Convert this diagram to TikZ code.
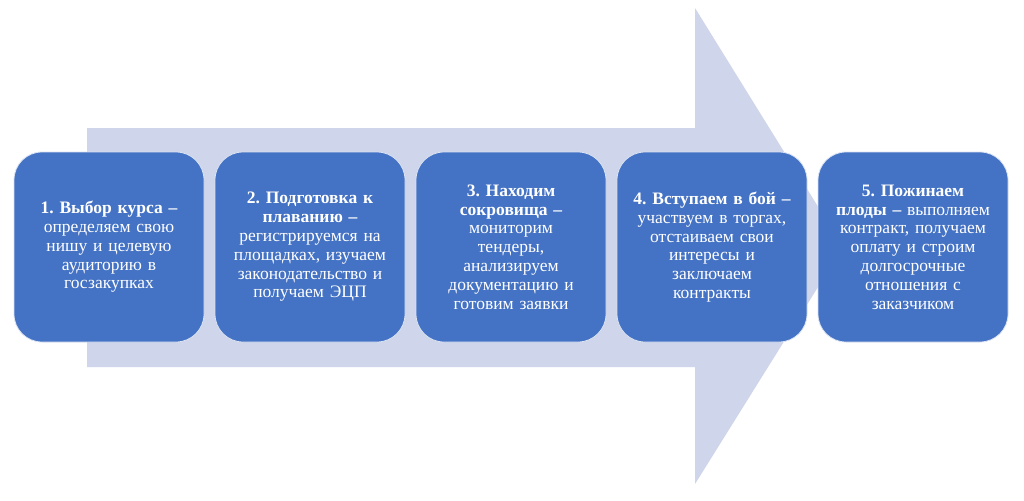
\documentclass[tikz,border=0pt]{standalone}
\usepackage{fontspec}
\setmainfont{Liberation Serif}
\definecolor{boxblue}{HTML}{4472C4}
\definecolor{arrowgray}{HTML}{CFD5EA}
\frenchspacing
\begin{document}
\begin{tikzpicture}[x=1pt,y=-1pt,
  stepbox/.style={draw=white!80!boxblue, line width=0.8pt, fill=boxblue, rounded corners=28pt,
    minimum width=190pt, minimum height=190pt, inner sep=0pt, text width=180pt, align=center,
    text=white, font=\fontsize{17.5}{18.8}\selectfont},
  bigarrow/.style={fill=arrowgray, draw=none}]
\useasboundingbox (0,0) rectangle (1024,500);
\fill[white] (0,0) rectangle (1024,500);
\path[bigarrow] (87,128) -- (695,128) -- (695,8) -- (843,247) -- (695,484) -- (695,367) -- (87,367) -- cycle;
\node[stepbox] (b1) at (109,247) {\textbf{1. Выбор курса –}\\определяем свою\\нишу и целевую\\аудиторию в\\госзакупках};
\node[stepbox] (b2) at (310,247) {\textbf{2. Подготовка к}\\\textbf{плаванию –}\\регистрируемся на\\площадках, изучаем\\законодательство и\\получаем ЭЦП};
\node[stepbox] (b3) at (511,247) {\textbf{3. Находим}\\\textbf{сокровища –}\\мониторим\\тендеры,\\анализируем\\документацию и\\готовим заявки};
\node[stepbox] (b4) at (712,247) {\textbf{4. Вступаем в бой –}\\участвуем в торгах,\\отстаиваем свои\\интересы и\\заключаем\\контракты};
\node[stepbox] (b5) at (913,247) {\textbf{5. Пожинаем}\\\textbf{плоды –} выполняем\\контракт, получаем\\оплату и строим\\долгосрочные\\отношения с\\заказчиком};
\end{tikzpicture}
\end{document}
